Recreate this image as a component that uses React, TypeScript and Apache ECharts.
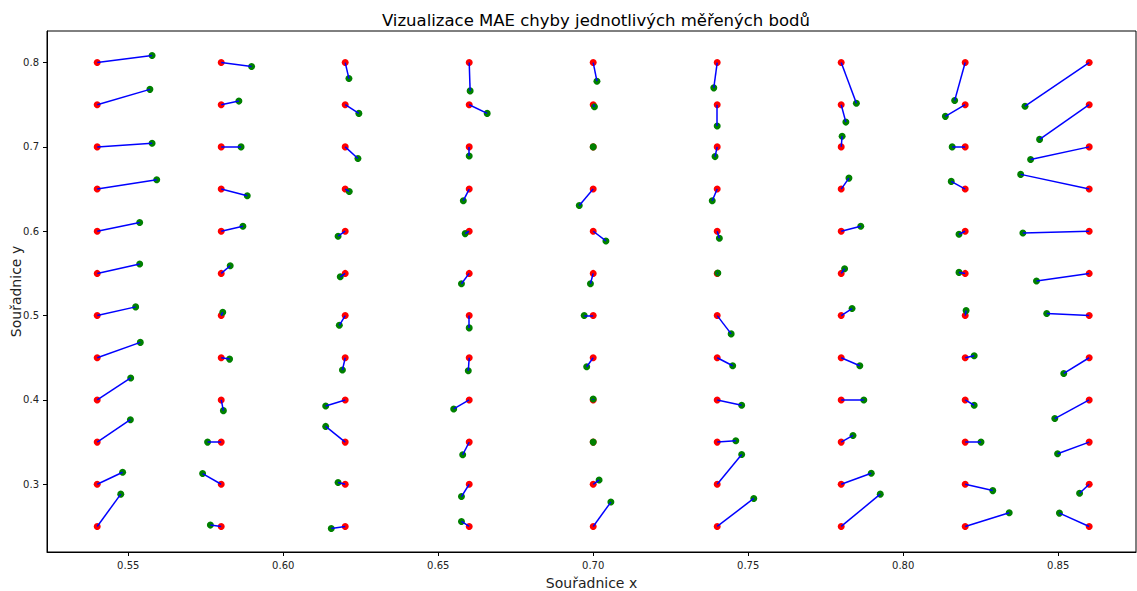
import React, { useEffect, useRef } from "react";
import * as echarts from "echarts";

const gridX = [0.54, 0.58, 0.62, 0.66, 0.7, 0.74, 0.78, 0.82, 0.86];
const gridY = [0.8, 0.75, 0.7, 0.65, 0.6, 0.55, 0.5, 0.45, 0.4, 0.35, 0.3, 0.25];

// measured (green) points, one array per column, rows top (0.80) to bottom (0.25)
const predX = [
  [0.5577, 0.557, 0.5577, 0.5592, 0.5537, 0.5537, 0.5524, 0.5539, 0.5508, 0.5507, 0.5482, 0.5476],
  [0.5898, 0.5857, 0.5864, 0.5884, 0.587, 0.5829, 0.5805, 0.5827, 0.5807, 0.5756, 0.574, 0.5765],
  [0.6212, 0.6244, 0.6241, 0.6213, 0.6177, 0.6184, 0.6181, 0.6191, 0.6137, 0.6137, 0.6177, 0.6155],
  [0.6603, 0.6658, 0.66, 0.6581, 0.6587, 0.6575, 0.66, 0.6597, 0.655, 0.6579, 0.6575, 0.6575],
  [0.7012, 0.7004, 0.7, 0.6955, 0.7041, 0.6991, 0.6971, 0.6979, 0.7, 0.7, 0.7019, 0.7057],
  [0.7389, 0.74, 0.7393, 0.7384, 0.7407, 0.7402, 0.7445, 0.745, 0.7479, 0.746, 0.7479, 0.7518],
  [0.7849, 0.7815, 0.7803, 0.7825, 0.7863, 0.7811, 0.7835, 0.786, 0.7873, 0.7838, 0.7897, 0.7926],
  [0.8166, 0.8136, 0.8158, 0.8155, 0.818, 0.818, 0.8203, 0.8229, 0.8229, 0.8251, 0.8289, 0.8342],
  [0.8393, 0.844, 0.8411, 0.8379, 0.8386, 0.843, 0.8463, 0.8518, 0.8489, 0.8498, 0.8569, 0.8504],
];
const predY = [
  [0.8083, 0.7682, 0.7043, 0.6611, 0.6103, 0.5611, 0.5103, 0.4682, 0.4261, 0.3765, 0.3142, 0.2883],
  [0.7953, 0.7543, 0.7, 0.6421, 0.6059, 0.5591, 0.504, 0.4484, 0.3873, 0.35, 0.3127, 0.2516],
  [0.781, 0.7397, 0.6862, 0.6472, 0.5941, 0.546, 0.4885, 0.4354, 0.3929, 0.3686, 0.302, 0.2476],
  [0.7664, 0.7397, 0.6893, 0.6362, 0.5972, 0.5378, 0.4854, 0.4346, 0.3893, 0.335, 0.2854, 0.2559],
  [0.7779, 0.7476, 0.7, 0.6306, 0.5885, 0.5378, 0.5, 0.4393, 0.4012, 0.35, 0.3051, 0.2789],
  [0.77, 0.7247, 0.6885, 0.6362, 0.5917, 0.5504, 0.4783, 0.4405, 0.3937, 0.3516, 0.3352, 0.2832],
  [0.7518, 0.7294, 0.7127, 0.663, 0.6059, 0.5555, 0.5083, 0.4405, 0.4, 0.3579, 0.313, 0.2883],
  [0.7549, 0.7362, 0.7, 0.6591, 0.5964, 0.5512, 0.5059, 0.4524, 0.3937, 0.35, 0.2925, 0.2662],
  [0.7482, 0.7089, 0.685, 0.6674, 0.598, 0.5409, 0.5024, 0.4314, 0.3779, 0.3362, 0.2893, 0.2658],
];

const xTicks = [0.55, 0.6, 0.65, 0.7, 0.75, 0.8, 0.85];
const yTicks = [0.3, 0.4, 0.5, 0.6, 0.7, 0.8];

const FONT = "DejaVu Sans";

export default function App() {
  const ref = useRef<HTMLDivElement>(null);
  useEffect(() => {
    document.body.style.margin = "0";
    if (!ref.current) return;
    const chart = echarts.init(ref.current, undefined, { renderer: "svg" });
    const red: number[][] = [];
    const green: number[][] = [];
    const segs: any[] = [];
    gridX.forEach((gx, i) => {
      gridY.forEach((gy, j) => {
        const px = predX[i][j];
        const py = predY[i][j];
        red.push([gx, gy]);
        green.push([px, py]);
        segs.push({ coords: [[gx, gy], [px, py]] });
      });
    });
    const axisLabelStyle = { color: "#222", fontSize: 10, fontFamily: FONT };
    chart.setOption({
      animation: false,
      backgroundColor: "#fff",
      title: {
        text: "Vizualizace MAE chyby jednotlivých měřených bodů",
        left: 591,
        top: 7,
        textAlign: "center",
        textStyle: { color: "#000", fontSize: 16.5, fontWeight: "normal", fontFamily: FONT },
      },
      grid: {
        left: 47,
        right: 1,
        top: 31,
        bottom: 39,
        containLabel: false,
        outerBoundsMode: "none",
        show: true,
        borderColor: "#000",
        borderWidth: 1,
        backgroundColor: "transparent",
      },
      xAxis: {
        type: "value",
        min: 0.5238,
        max: 0.8751,
        name: "Souřadnice x",
        nameLocation: "middle",
        nameGap: 24,
        nameMoveOverlap: false,
        nameTextStyle: { color: "#222", fontSize: 14, fontFamily: FONT },
        axisLine: { show: true, lineStyle: { color: "#000", width: 1 } },
        axisTick: { show: true, length: 4, customValues: xTicks, lineStyle: { color: "#000" } },
        axisLabel: { ...axisLabelStyle, margin: 8, customValues: xTicks, formatter: (v: number) => v.toFixed(2) },
        splitLine: { show: false },
      },
      yAxis: {
        type: "value",
        min: 0.2197,
        max: 0.8374,
        name: "Souřadnice y",
        nameLocation: "middle",
        nameGap: 24,
        nameMoveOverlap: false,
        nameTextStyle: { color: "#222", fontSize: 14, fontFamily: FONT },
        axisLine: { show: true, lineStyle: { color: "#000", width: 1 } },
        axisTick: { show: true, length: 4, customValues: yTicks, lineStyle: { color: "#000" } },
        axisLabel: { ...axisLabelStyle, margin: 8, customValues: yTicks, formatter: (v: number) => v.toFixed(1) },
        splitLine: { show: false },
      },
      series: [
        {
          type: "scatter",
          data: red,
          symbolSize: 7,
          itemStyle: { color: "#ff0000", opacity: 1 },
          z: 2,
        },
        {
          type: "scatter",
          data: green,
          symbolSize: 7,
          itemStyle: { color: "#008000", opacity: 1 },
          z: 3,
        },
        {
          type: "lines",
          coordinateSystem: "cartesian2d",
          data: segs,
          lineStyle: { color: "#0000ff", width: 1.5, opacity: 1 },
          z: 4,
        },
      ],
    });
    return () => chart.dispose();
  }, []);
  return <div ref={ref} style={{ position: "fixed", left: 0, top: 0, width: 1137, height: 591 }} />;
}
